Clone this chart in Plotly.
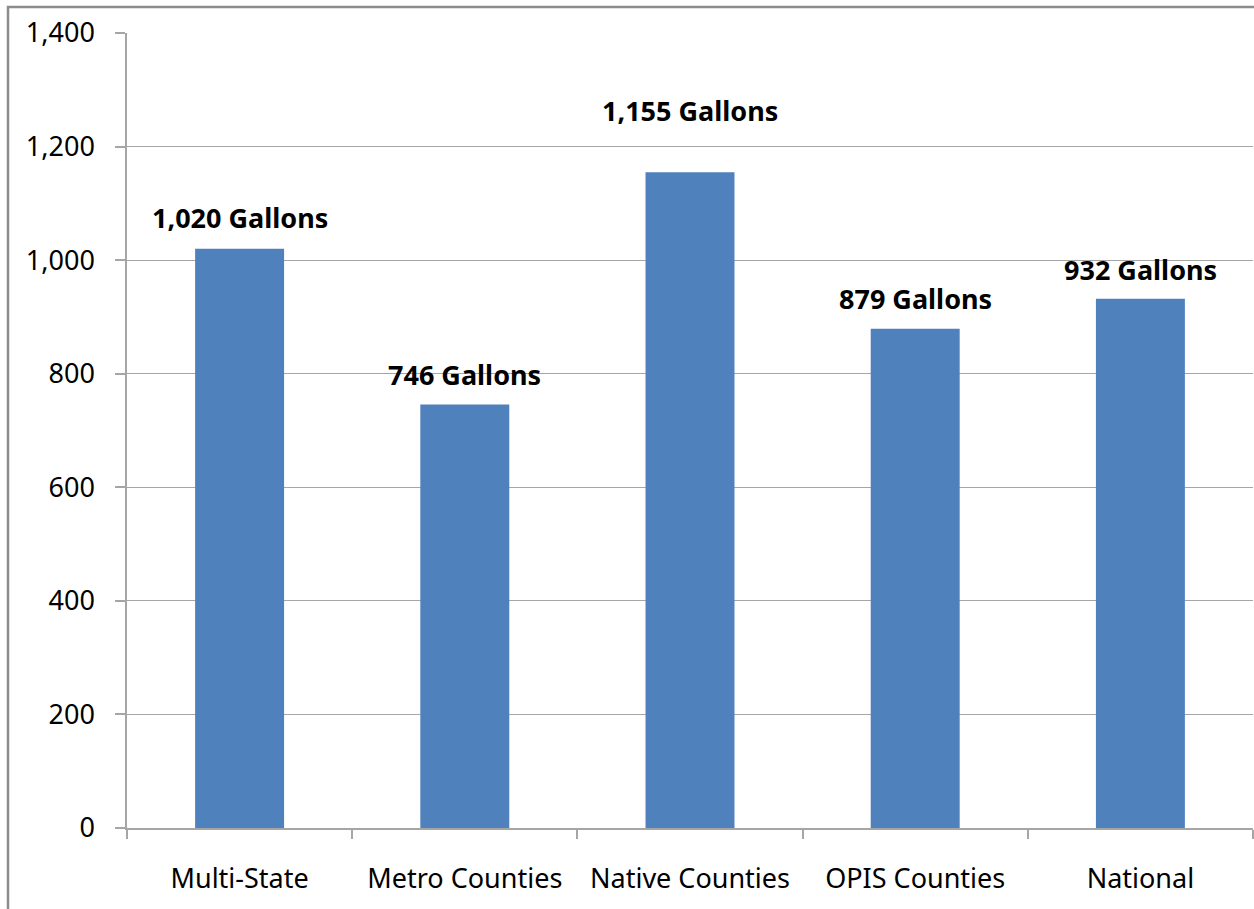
import plotly.graph_objects as go

# Average volume per site by region group
categories = ["Multi-State", "Metro Counties", "Native Counties", "OPIS Counties", "National"]
gallons = [1020, 746, 1155, 879, 932]
y_ticks = [0, 200, 400, 600, 800, 1000, 1200, 1400]

# Vertical pixel lift of each value label's centre above its bar top
label_lift = [31, 30, 62, 30, 29]

W, H = 1254, 909
M_L, M_R, M_T, M_B = 127, 1, 33, 81
BAR_BLUE = "#4F81BD"
GRID = "#A6A6A6"
FONT = "Noto Sans"
TICK_SIZE = 27
LABEL_SIZE = 27

fig = go.Figure(
    go.Bar(
        x=categories,
        y=gallons,
        marker=dict(color=BAR_BLUE, line=dict(width=0)),
        width=0.395,
        hoverinfo="x+y",
    )
)

for cat, val, lift in zip(categories, gallons, label_lift):
    fig.add_annotation(
        x=cat,
        y=val,
        text=f"<b>{val:,} Gallons</b>",
        showarrow=False,
        yanchor="middle",
        yshift=lift,
        font=dict(family=FONT, size=LABEL_SIZE, color="#000000"),
    )

# Outer chart frame (left and top edges visible, the rest runs off the page)
pw = W - M_L - M_R
ph = H - M_T - M_B
fig.add_shape(
    type="rect",
    xref="paper", yref="paper",
    x0=(8 - M_L) / pw, x1=(W + 10 - M_L) / pw,
    y0=-(M_B + 10) / ph, y1=(H - M_B - 7) / ph,
    line=dict(color="#8C8C8C", width=2.5),
    fillcolor="rgba(0,0,0,0)",
    layer="above",
)

fig.update_layout(
    width=W,
    height=H,
    margin=dict(l=M_L, r=M_R, t=M_T, b=M_B),
    paper_bgcolor="white",
    plot_bgcolor="white",
    showlegend=False,
    font=dict(family=FONT, size=TICK_SIZE, color="#000000"),
    bargap=0.6,
)

fig.update_xaxes(
    showline=True,
    linecolor=GRID,
    linewidth=1.5,
    ticks="outside",
    tickson="boundaries",
    ticklen=9,
    tickcolor=GRID,
    tickwidth=1.5,
    showgrid=False,
    tickfont=dict(family=FONT, size=TICK_SIZE, color="#000000"),
    ticklabelstandoff=26,
)

fig.update_yaxes(
    range=[0, 1400],
    tickvals=y_ticks,
    ticktext=[f"{v:,}" for v in y_ticks],
    showline=True,
    linecolor=GRID,
    linewidth=1.5,
    ticks="outside",
    ticklen=10,
    tickcolor=GRID,
    tickwidth=1.5,
    showgrid=True,
    gridcolor=GRID,
    gridwidth=1.2,
    zeroline=False,
    tickfont=dict(family=FONT, size=TICK_SIZE, color="#000000"),
    ticklabelstandoff=15,
)

fig.write_html("out.html")
